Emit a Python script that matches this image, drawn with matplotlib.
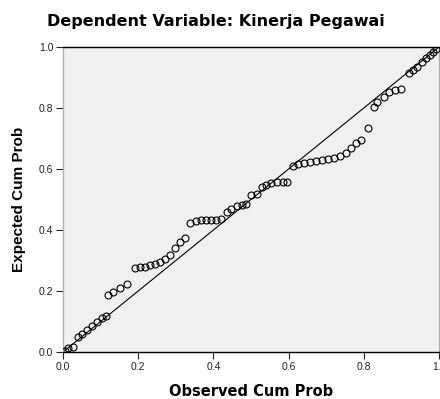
import numpy as np
import matplotlib.pyplot as plt

# observed vs expected cumulative probabilities
observed = [0.005, 0.013, 0.027, 0.040, 0.050, 0.064, 0.077, 0.090, 0.103, 0.114,
            0.119, 0.133, 0.151, 0.170, 0.191, 0.204, 0.218, 0.231, 0.244, 0.257,
            0.271, 0.284, 0.297, 0.310, 0.324, 0.337, 0.353, 0.366, 0.379, 0.393,
            0.406, 0.419, 0.435, 0.448, 0.462, 0.475, 0.488, 0.501, 0.515, 0.528,
            0.541, 0.554, 0.568, 0.584, 0.597, 0.613, 0.626, 0.642, 0.658, 0.674,
            0.690, 0.706, 0.721, 0.737, 0.753, 0.767, 0.780, 0.793, 0.812, 0.828,
            0.836, 0.854, 0.867, 0.883, 0.899, 0.920, 0.931, 0.942, 0.955, 0.966,
            0.976, 0.984, 0.992]
expected = [0.003, 0.013, 0.016, 0.049, 0.059, 0.072, 0.085, 0.098, 0.111, 0.118,
            0.187, 0.197, 0.210, 0.223, 0.275, 0.279, 0.279, 0.285, 0.289, 0.295,
            0.305, 0.318, 0.341, 0.361, 0.374, 0.423, 0.430, 0.433, 0.433, 0.433,
            0.433, 0.436, 0.459, 0.469, 0.479, 0.482, 0.485, 0.515, 0.518, 0.541,
            0.548, 0.554, 0.557, 0.557, 0.557, 0.610, 0.616, 0.620, 0.623, 0.626,
            0.630, 0.633, 0.636, 0.643, 0.652, 0.669, 0.685, 0.695, 0.734, 0.803,
            0.820, 0.836, 0.852, 0.859, 0.862, 0.915, 0.925, 0.934, 0.951, 0.964,
            0.974, 0.984, 0.993]
ticks = [0.0, 0.2, 0.4, 0.6, 0.8, 1.0]
tick_labels = ['0.0', '0.2', '0.4', '0.6', '0.8', '1.0']

plt.rcParams['font.family'] = ['Liberation Sans', 'DejaVu Sans']

fig = plt.figure(figsize=(4.40, 3.99), dpi=100)
ax = fig.add_axes([63 / 440, 47 / 399, 376 / 440, 305 / 399])
ax.set_facecolor('#f0f0f0')

ax.plot([0, 1], [0, 1], color='black', lw=0.8, zorder=2)
ax.plot(observed, expected, 'o', mfc='none', mec='black', mew=0.8,
        markersize=5, zorder=3)

ax.set_xlim(0, 1)
ax.set_ylim(0, 1)
ax.set_xticks(ticks)
ax.set_xticklabels(tick_labels)
ax.set_yticks(ticks)
ax.set_yticklabels(tick_labels)
ax.tick_params(direction='out', length=5, width=0.8, labelsize=7.5,
               colors='#222222', pad=2)

for side in ['top', 'bottom']:
    ax.spines[side].set_color('black')
    ax.spines[side].set_linewidth(1.0)
for side in ['left', 'right']:
    ax.spines[side].set_color('#b0b0b0')
    ax.spines[side].set_linewidth(1.0)

# the source picture is stretched horizontally, so horizontal texts are wider
ax.set_xlabel('Observed Cum Prob', fontsize=10.5, fontweight='bold',
              family='DejaVu Sans', labelpad=9)
ax.set_ylabel('Expected Cum Prob', fontsize=11, fontweight='bold', labelpad=9)
fig.text(0.491, 0.946, 'Dependent Variable: Kinerja Pegawai', ha='center',
         va='center', fontsize=11.5, fontweight='bold', family='DejaVu Sans')

fig.savefig('out.png', dpi=100)
